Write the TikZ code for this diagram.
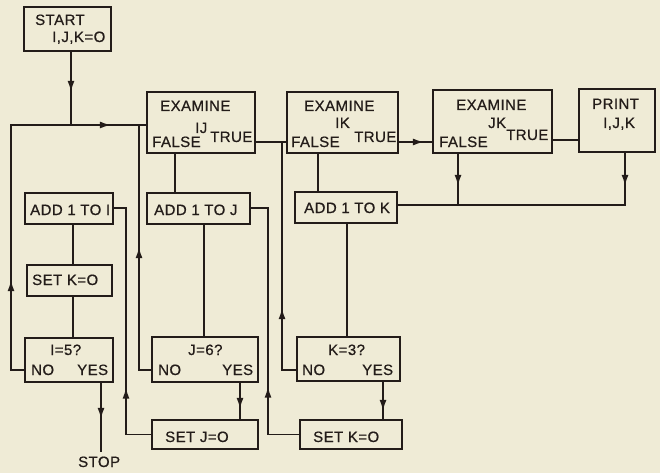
\documentclass[tikz,border=0pt]{standalone}
\usepackage{fontspec}
\setmainfont{Liberation Sans}[LetterSpace=3.0, FakeBold=0.6]
\usetikzlibrary{decorations.markings,arrows.meta}
\definecolor{bgc}{RGB}{239,235,214}
\definecolor{ink}{RGB}{35,28,25}
\tikzset{
  box/.style={draw=ink, line width=1.8pt, rectangle, inner sep=0pt},
  conn/.style={draw=ink, line width=1.7pt, line join=miter},
  lbl/.style={anchor=base west, inner sep=0pt, text=ink, font=\fontsize{15}{17}\selectfont},
  ma/.style={postaction={decorate,decoration={markings,mark=at position #1 with {\arrow[ink]{Latex[length=11pt,width=7pt]}}}}},
}
\begin{document}
\begin{tikzpicture}[x=1pt,y=-1pt]
\fill[bgc] (0,0) rectangle (660,473);
% boxes
\node[box, minimum width=87pt,  minimum height=44pt] (start) at (67.5,29) {};
\node[box, minimum width=108pt, minimum height=61pt] (ij) at (201,122.5) {};
\node[box, minimum width=111pt, minimum height=61pt] (ik) at (342.5,122.5) {};
\node[box, minimum width=119pt, minimum height=63pt] (jk) at (492.5,121.5) {};
\node[box, minimum width=76pt,  minimum height=63pt] (print) at (617,120.5) {};
\node[box, minimum width=88pt,  minimum height=31pt] (addi) at (69,208.5) {};
\node[box, minimum width=85pt,  minimum height=31pt] (setka) at (69.5,280.5) {};
\node[box, minimum width=88pt,  minimum height=44pt] (ifive) at (69,360) {};
\node[box, minimum width=103pt, minimum height=31pt] (addj) at (198.5,208.5) {};
\node[box, minimum width=106pt, minimum height=45pt] (jsix) at (205,359.5) {};
\node[box, minimum width=106pt, minimum height=29pt] (setj) at (205,434.5) {};
\node[box, minimum width=102pt, minimum height=31pt] (addk) at (346,207.5) {};
\node[box, minimum width=103pt, minimum height=44pt] (kthree) at (348.5,359) {};
\node[box, minimum width=102pt, minimum height=29pt] (setkb) at (351,434.5) {};
% labels
\node[lbl] (t1) at (35,25) {START};
\node[lbl] (t2) at (52,42) {I,J,K=O};
\node[lbl] (t3) at (160,111) {EXAMINE};
\node[lbl] (t4) at (195,133) {IJ};
\node[lbl] (t5) at (152,147) {FALSE};
\node[lbl] (t6) at (210,142) {TRUE};
\node[lbl] (t7) at (304,111) {EXAMINE};
\node[lbl] (t8) at (335,128) {IK};
\node[lbl] (t9) at (291,147) {FALSE};
\node[lbl] (t10) at (354,142) {TRUE};
\node[lbl] (t11) at (456,110) {EXAMINE};
\node[lbl] (t12) at (488,128) {JK};
\node[lbl] (t13) at (439,147) {FALSE};
\node[lbl] (t14) at (506,140) {TRUE};
\node[lbl] (t15) at (592,109) {PRINT};
\node[lbl] (t16) at (603,128) {I,J,K};
\node[lbl] (t17) at (30,215) {ADD 1 TO I};
\node[lbl] (t18) at (32,285) {SET K=O};
\node[lbl] (t19) at (50,355) {I=5?};
\node[lbl] (t20) at (31,375) {NO};
\node[lbl] (t21) at (77,375) {YES};
\node[lbl] (stop) at (78,467) {STOP};
\node[lbl] (t22) at (154,215) {ADD 1 TO J};
\node[lbl] (t23) at (188,355) {J=6?};
\node[lbl] (t24) at (158,375) {NO};
\node[lbl] (t25) at (222,375) {YES};
\node[lbl] (t26) at (165,442) {SET J=O};
\node[lbl] (t27) at (304,213) {ADD 1 TO K};
\node[lbl] (t28) at (328,355) {K=3?};
\node[lbl] (t29) at (302,375) {NO};
\node[lbl] (t30) at (362,375) {YES};
\node[lbl] (t31) at (313,442) {SET K=O};
% coordinates
\coordinate (j0) at (71,125);
\coordinate (cl) at (11,125);
\coordinate (n1) at (11,370);
\coordinate (n2) at (139,370);
\coordinate (n3) at (126,208);
\coordinate (n4) at (268,208);
\coordinate (n5) at (282,142);
\coordinate (n6) at (282,370);
\coordinate (n7) at (560,140);
\coordinate (n8) at (625,205);
\coordinate (va) at (73,0);
\coordinate (vb) at (175,0);
\coordinate (vc) at (204,0);
\coordinate (vd) at (240,0);
\coordinate (ve) at (318,0);
\coordinate (vf) at (458,0);
\coordinate (vg) at (347,0);
\coordinate (vh) at (383,0);
\coordinate (vi) at (101,0);
\coordinate (stopc) at (101,452);
% connectors
\draw[conn, ma=40pt] (start.south -| j0) -- (j0);
\draw[conn, ma=103pt, ma=358pt] (ifive.west |- n1) -- (n1) -- (cl) -- (ij.west |- cl);
\draw[conn, ma=135pt] (jsix.west |- n2) -- (n2) -- (n2 |- cl);
\draw[conn, ma=72pt] (setj.west) -- (setj.west -| n3) -- (n3) -- (addi.east |- n3);
\draw[conn] (addi.south -| va) -- (setka.north -| va);
\draw[conn] (setka.south -| va) -- (ifive.north -| va);
\draw[conn, ma=36pt] (ifive.south -| vi) -- (stopc);
\draw[conn] (ij.south -| vb) -- (addj.north -| vb);
\draw[conn, ma=79pt] (setkb.west) -- (setkb.west -| n4) -- (n4) -- (addj.east |- n4);
\draw[conn] (addj.south -| vc) -- (jsix.north -| vc);
\draw[conn, ma=26pt] (jsix.south -| vd) -- (setj.north -| vd);
\draw[conn] (ij.east |- n5) -- (ik.west |- n5);
\draw[conn, ma=76pt] (kthree.west |- n6) -- (n6) -- (n5);
\draw[conn] (ik.south -| ve) -- (addk.north -| ve);
\draw[conn, ma=25pt] (ik.east |- n5) -- (jk.west |- n5);
\draw[conn] (jk.east |- n7) -- (print.west |- n7);
\draw[conn, ma=32pt] (jk.south -| vf) -- (vf |- n8);
\draw[conn, ma=33pt] (print.south -| n8) -- (n8) -- (addk.east |- n8);
\draw[conn] (addk.south -| vg) -- (kthree.north -| vg);
\draw[conn, ma=29pt] (kthree.south -| vh) -- (setkb.north -| vh);
\end{tikzpicture}
\end{document}
